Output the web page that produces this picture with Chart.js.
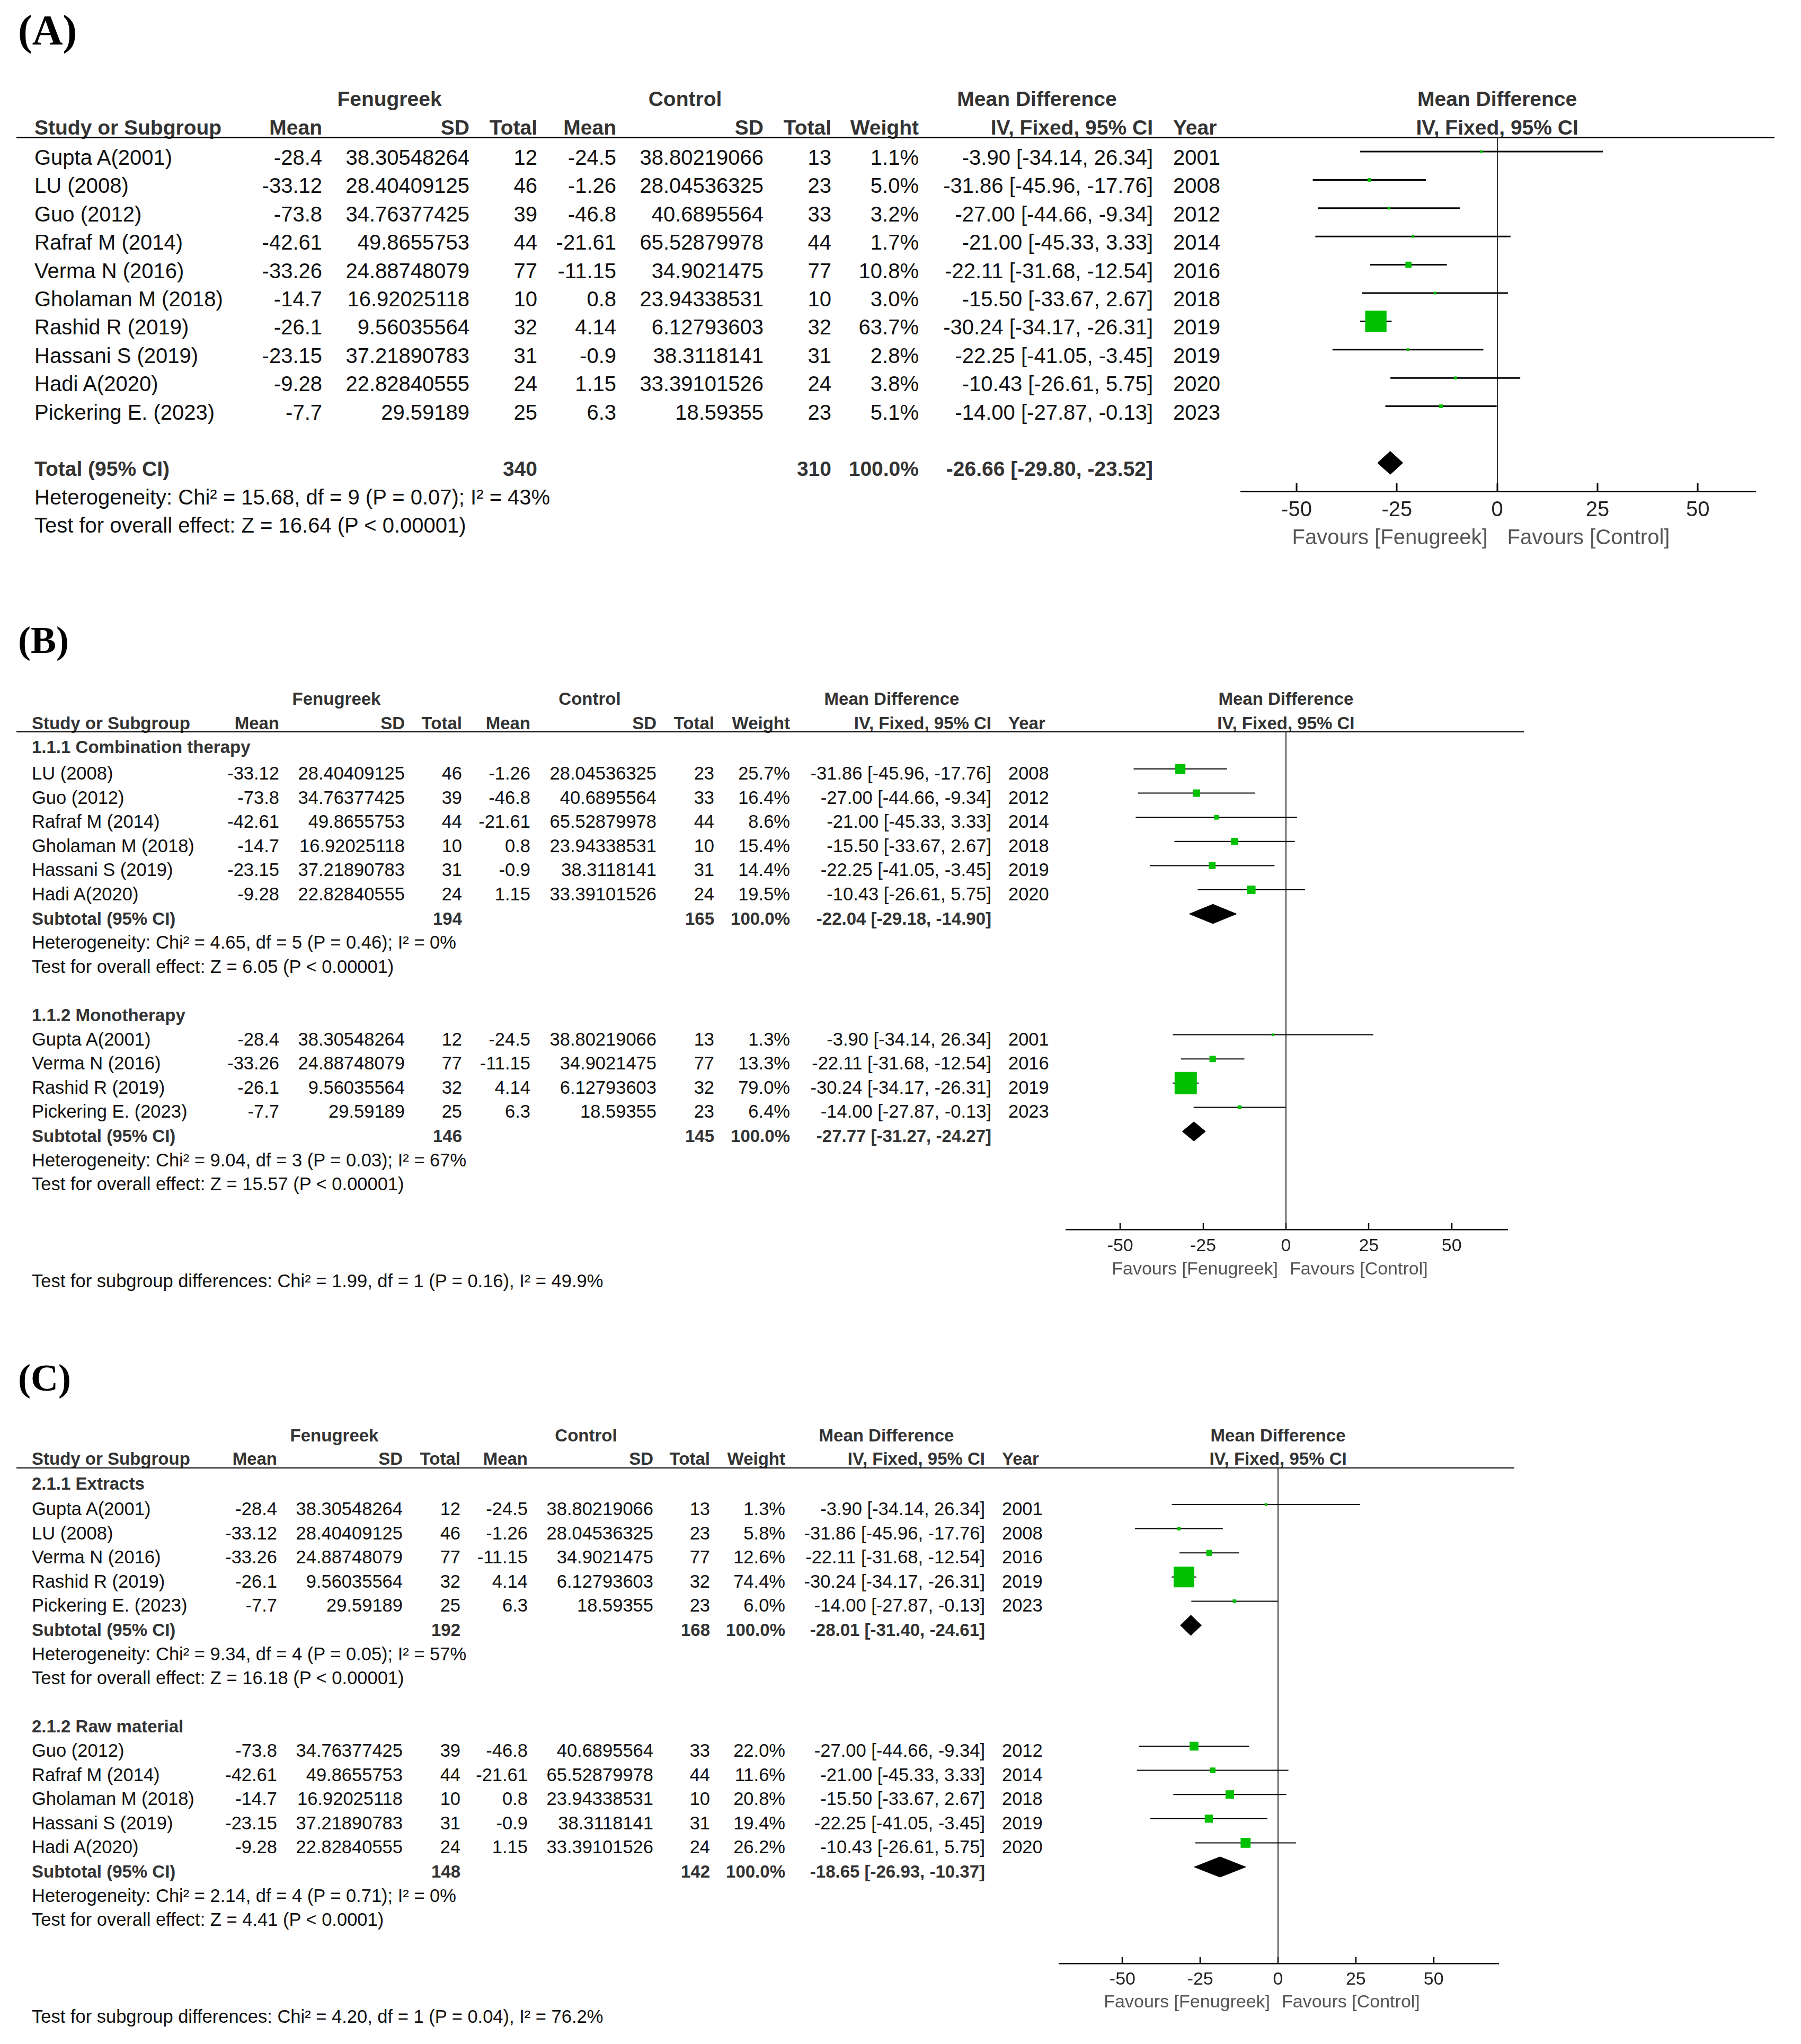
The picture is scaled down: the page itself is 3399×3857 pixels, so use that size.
<!DOCTYPE html>
<html>
<head>
<meta charset="utf-8">
<script src="https://cdn.jsdelivr.net/npm/chart.js@4.4.1/dist/chart.umd.min.js"></script>
<style>
html, body { margin: 0; padding: 0; background: #fff; }
#page { position: relative; width: 3399px; height: 3857px; overflow: hidden; font-family: "Liberation Sans", Arial, sans-serif; color: #111; }
.t { position: absolute; white-space: pre; line-height: 1; transform: translateY(-50%); }
.hl { position: absolute; background: #000; }
canvas { position: absolute; }
</style>
</head>
<body>
<div id="page"></div>
<script>
// studies (same order as panel A)
const studyNames = ['Gupta A(2001)', 'LU (2008)', 'Guo (2012)', 'Rafraf M (2014)', 'Verma N (2016)', 'Gholaman M (2018)', 'Rashid R (2019)', 'Hassani S (2019)', 'Hadi A(2020)', 'Pickering E. (2023)'];
const fenMean = [-28.4, -33.12, -73.8, -42.61, -33.26, -14.7, -26.1, -23.15, -9.28, -7.7];
const fenSD = [38.30548264, 28.40409125, 34.76377425, 49.8655753, 24.88748079, 16.92025118, 9.56035564, 37.21890783, 22.82840555, 29.59189];
const fenN = [12, 46, 39, 44, 77, 10, 32, 31, 24, 25];
const ctlMean = [-24.5, -1.26, -46.8, -21.61, -11.15, 0.8, 4.14, -0.9, 1.15, 6.3];
const ctlSD = [38.80219066, 28.04536325, 40.6895564, 65.52879978, 34.9021475, 23.94338531, 6.12793603, 38.3118141, 33.39101526, 18.59355];
const ctlN = [13, 23, 33, 44, 77, 10, 32, 31, 24, 23];
const md = [-3.90, -31.86, -27.00, -21.00, -22.11, -15.50, -30.24, -22.25, -10.43, -14.00];
const ciLow = [-34.14, -45.96, -44.66, -45.33, -31.68, -33.67, -34.17, -41.05, -26.61, -27.87];
const ciHigh = [26.34, -17.76, -9.34, 3.33, -12.54, 2.67, -26.31, -3.45, 5.75, -0.13];
const years = [2001, 2008, 2012, 2014, 2016, 2018, 2019, 2019, 2020, 2023];

// panel A
const studiesA = [0, 1, 2, 3, 4, 5, 6, 7, 8, 9];
const weightsA = [1.1, 5.0, 3.2, 1.7, 10.8, 3.0, 63.7, 2.8, 3.8, 5.1];
const pooledA = [-26.66, -29.80, -23.52];
const totalsA = [340, 310];
const statsA = ['Heterogeneity: Chi² = 15.68, df = 9 (P = 0.07); I² = 43%', 'Test for overall effect: Z = 16.64 (P < 0.00001)'];

// panel B
const subgroupsB = ['1.1.1 Combination therapy', '1.1.2 Monotherapy'];
const studiesB1 = [1, 2, 3, 5, 7, 8];
const weightsB1 = [25.7, 16.4, 8.6, 15.4, 14.4, 19.5];
const pooledB1 = [-22.04, -29.18, -14.90];
const totalsB1 = [194, 165];
const statsB1 = ['Heterogeneity: Chi² = 4.65, df = 5 (P = 0.46); I² = 0%', 'Test for overall effect: Z = 6.05 (P < 0.00001)'];
const studiesB2 = [0, 4, 6, 9];
const weightsB2 = [1.3, 13.3, 79.0, 6.4];
const pooledB2 = [-27.77, -31.27, -24.27];
const totalsB2 = [146, 145];
const statsB2 = ['Heterogeneity: Chi² = 9.04, df = 3 (P = 0.03); I² = 67%', 'Test for overall effect: Z = 15.57 (P < 0.00001)'];
const diffB = 'Test for subgroup differences: Chi² = 1.99, df = 1 (P = 0.16), I² = 49.9%';

// panel C
const subgroupsC = ['2.1.1 Extracts', '2.1.2 Raw material'];
const studiesC1 = [0, 1, 4, 6, 9];
const weightsC1 = [1.3, 5.8, 12.6, 74.4, 6.0];
const pooledC1 = [-28.01, -31.40, -24.61];
const totalsC1 = [192, 168];
const statsC1 = ['Heterogeneity: Chi² = 9.34, df = 4 (P = 0.05); I² = 57%', 'Test for overall effect: Z = 16.18 (P < 0.00001)'];
const studiesC2 = [2, 3, 5, 7, 8];
const weightsC2 = [22.0, 11.6, 20.8, 19.4, 26.2];
const pooledC2 = [-18.65, -26.93, -10.37];
const totalsC2 = [148, 142];
const statsC2 = ['Heterogeneity: Chi² = 2.14, df = 4 (P = 0.71); I² = 0%', 'Test for overall effect: Z = 4.41 (P < 0.0001)'];
const diffC = 'Test for subgroup differences: Chi² = 4.20, df = 1 (P = 0.04), I² = 76.2%';

const colHeads = ['Mean', 'SD', 'Total', 'Mean', 'SD', 'Total', 'Weight', 'IV, Fixed, 95% CI'];
const favourLabels = ['Favours [Fenugreek]', 'Favours [Control]'];

const page = document.getElementById('page');

const panels = [
  {
    label: '(A)', labelY: 57, labelSize: 80,
    fs: 40, bs: 39, groupY: 186, headY: 240, lineY: 259, lineX1: 3349, lineW: 3,
    left: 65, cols: [608, 886, 1014, 1163, 1441, 1569, 1734, 2176], yearX: 2214,
    gc: [735, 1293, 1957],
    x0: 2341, x1: 3314, xMin: -64, xMax: 64.5, axisY: 927, axisH: 130,
    ciY0: 286, pitch: 53.4, textOff: 11,
    tickFont: 40, tickPad: 12, tickLen: 15, favDy: 89, favFont: 40, gapL: 18, gapR: 19,
    ciW: 3, zeroW: 2, axisW: 3, sqK: 2.2, dH: 0.41,
    groups: [
      { title: null, studies: studiesA, weights: weightsA, start: 0, pooledRow: 11, pooled: pooledA, totals: totalsA, stats: statsA, totLabel: 'Total (95% CI)' }
    ],
    diff: null
  },
  {
    label: '(B)', labelY: 1208, labelSize: 72,
    fs: 34.5, bs: 33, groupY: 1318, headY: 1364, lineY: 1381, lineX1: 2876, lineW: 2,
    left: 60, cols: [527, 764, 872, 1001, 1239, 1348, 1491, 1871], yearX: 1903,
    gc: [635, 1113, 1683],
    x0: 2011, x1: 2846, xMin: -66.5, xMax: 67, axisY: 2320, axisH: 110,
    ciY0: 1451, pitch: 45.6, textOff: 8,
    tickFont: 34, tickPad: 11, tickLen: 12, favDy: 76, favFont: 34, gapL: 15, gapR: 7,
    ciW: 2, zeroW: 2, axisW: 2.5, sqK: 1.97, dH: 0.4,
    groups: [
      { title: subgroupsB[0], titleRow: -1.1, studies: studiesB1, weights: weightsB1, start: 0, pooledRow: 6, pooled: pooledB1, totals: totalsB1, stats: statsB1, totLabel: 'Subtotal (95% CI)' },
      { title: subgroupsB[1], titleRow: 10, studies: studiesB2, weights: weightsB2, start: 11, pooledRow: 15, pooled: pooledB2, totals: totalsB2, stats: statsB2, totLabel: 'Subtotal (95% CI)' }
    ],
    diff: diffB, diffRow: 21
  },
  {
    label: '(C)', labelY: 2600, labelSize: 72,
    fs: 34.5, bs: 33, groupY: 2708, headY: 2752, lineY: 2770, lineX1: 2858, lineW: 2,
    left: 60, cols: [523, 760, 869, 996, 1233, 1340, 1482, 1859], yearX: 1891,
    gc: [631, 1106, 1673],
    x0: 1998, x1: 2829, xMin: -70.5, xMax: 71, axisY: 3705, axisH: 110,
    ciY0: 2839, pitch: 45.6, textOff: 8,
    tickFont: 34, tickPad: 10, tickLen: 12, favDy: 74, favFont: 34, gapL: 15, gapR: 7,
    ciW: 2, zeroW: 2, axisW: 2.5, sqK: 1.91, dH: 0.42,
    groups: [
      { title: subgroupsC[0], titleRow: -1.05, studies: studiesC1, weights: weightsC1, start: 0, pooledRow: 5, pooled: pooledC1, totals: totalsC1, stats: statsC1, totLabel: 'Subtotal (95% CI)' },
      { title: subgroupsC[1], titleRow: 9, studies: studiesC2, weights: weightsC2, start: 10, pooledRow: 15, pooled: pooledC2, totals: totalsC2, stats: statsC2, totLabel: 'Subtotal (95% CI)' }
    ],
    diff: diffC, diffRow: 21
  }
];

const put = (txt, x, y, size, align, bold, color, family) => {
  const d = document.createElement('div');
  d.className = 't';
  d.textContent = txt;
  d.style.fontSize = size + 'px';
  d.style.top = y + 'px';
  d.style.left = x + 'px';
  d.style.color = color || '#111';
  if (bold) d.style.fontWeight = 'bold';
  if (family) d.style.fontFamily = family;
  if (align === 'right') d.style.transform = 'translate(-100%,-50%)';
  if (align === 'center') d.style.transform = 'translate(-50%,-50%)';
  page.appendChild(d);
};

const fmtCI = (e, lo, hi) => e.toFixed(2) + ' [' + lo.toFixed(2) + ', ' + hi.toFixed(2) + ']';

const upTicks = {
  id: 'upTicks',
  afterDraw(chart, args, o) {
    const ctx = chart.ctx, xs = chart.scales.x, b = chart.chartArea.bottom;
    ctx.save();
    ctx.strokeStyle = '#000';
    ctx.lineWidth = o.w;
    ctx.beginPath();
    xs.ticks.forEach(t => {
      const px = Math.round(xs.getPixelForValue(t.value));
      ctx.moveTo(px, b);
      ctx.lineTo(px, b - o.len);
    });
    ctx.stroke();
    ctx.restore();
  }
};

const favours = {
  id: 'favours',
  afterDraw(chart, args, o) {
    const ctx = chart.ctx, z = chart.scales.x.getPixelForValue(0);
    const y = chart.chartArea.bottom + o.dy;
    ctx.save();
    ctx.font = o.size + 'px "Liberation Sans", Arial, sans-serif';
    ctx.fillStyle = '#555';
    ctx.textBaseline = 'middle';
    ctx.textAlign = 'right';
    ctx.fillText(favourLabels[0], z - o.gapL, y);
    ctx.textAlign = 'left';
    ctx.fillText(favourLabels[1], z + o.gapR, y);
    ctx.restore();
  }
};

const drawPanel = (p) => {
  const ty = (i) => p.ciY0 + p.textOff + p.pitch * i;
  const zeroX = p.x0 + (0 - p.xMin) / (p.xMax - p.xMin) * (p.x1 - p.x0);
  const hc = '#333';

  put(p.label, 34, p.labelY, p.labelSize, 'left', true, '#000', '"Liberation Serif", "Times New Roman", serif');

  put('Fenugreek', p.gc[0], p.groupY, p.bs, 'center', true, hc);
  put('Control', p.gc[1], p.groupY, p.bs, 'center', true, hc);
  put('Mean Difference', p.gc[2], p.groupY, p.bs, 'center', true, hc);
  put('Mean Difference', zeroX, p.groupY, p.bs, 'center', true, hc);
  put('Study or Subgroup', p.left, p.headY, p.bs, 'left', true, hc);
  colHeads.forEach((h, k) => put(h, p.cols[k], p.headY, p.bs, 'right', true, hc));
  put('Year', p.yearX, p.headY, p.bs, 'left', true, hc);
  put('IV, Fixed, 95% CI', zeroX, p.headY, p.bs, 'center', true, hc);

  const line = document.createElement('div');
  line.className = 'hl';
  line.style.left = '31px';
  line.style.width = (p.lineX1 - 31) + 'px';
  line.style.top = (p.lineY - p.lineW / 2) + 'px';
  line.style.height = p.lineW + 'px';
  page.appendChild(line);

  p.groups.forEach(g => {
    if (g.title) put(g.title, p.left, ty(g.titleRow), p.bs, 'left', true, hc);
    g.studies.forEach((s, k) => {
      const y = ty(g.start + k);
      const c = p.cols;
      put(studyNames[s], p.left, y, p.fs, 'left');
      put(String(fenMean[s]), c[0], y, p.fs, 'right');
      put(String(fenSD[s]), c[1], y, p.fs, 'right');
      put(String(fenN[s]), c[2], y, p.fs, 'right');
      put(String(ctlMean[s]), c[3], y, p.fs, 'right');
      put(String(ctlSD[s]), c[4], y, p.fs, 'right');
      put(String(ctlN[s]), c[5], y, p.fs, 'right');
      put(g.weights[k].toFixed(1) + '%', c[6], y, p.fs, 'right');
      put(fmtCI(md[s], ciLow[s], ciHigh[s]), c[7], y, p.fs, 'right');
      put(String(years[s]), p.yearX, y, p.fs, 'left');
    });
    const y = ty(g.pooledRow);
    put(g.totLabel, p.left, y, p.bs, 'left', true, hc);
    put(String(g.totals[0]), p.cols[2], y, p.bs, 'right', true, hc);
    put(String(g.totals[1]), p.cols[5], y, p.bs, 'right', true, hc);
    put('100.0%', p.cols[6], y, p.bs, 'right', true, hc);
    put(fmtCI(g.pooled[0], g.pooled[1], g.pooled[2]), p.cols[7], y, p.bs, 'right', true, hc);
    g.stats.forEach((st, k) => put(st, p.left, ty(g.pooledRow + 1 + k), p.fs, 'left'));
  });
  if (p.diff) put(p.diff, p.left, ty(p.diffRow), p.fs, 'left');

  // forest plot
  const canvas = document.createElement('canvas');
  const w = p.x1 - p.x0, h = p.axisY - p.lineY + p.axisH;
  canvas.width = w;
  canvas.height = h;
  canvas.style.left = p.x0 + 'px';
  canvas.style.top = p.lineY + 'px';
  canvas.style.width = w + 'px';
  canvas.style.height = h + 'px';
  page.appendChild(canvas);

  const datasets = [];
  const boxes = [];
  const boxR = [];
  p.groups.forEach(g => {
    g.studies.forEach((s, k) => {
      const row = g.start + k;
      datasets.push({
        data: [{ x: ciLow[s], y: row }, { x: ciHigh[s], y: row }],
        showLine: true, borderColor: '#000', borderWidth: p.ciW, pointRadius: 0, order: 2
      });
      boxes.push({ x: md[s], y: row });
      boxR.push(Math.max(5, p.sqK * Math.pow(g.weights[k], 0.7)) / Math.SQRT2);
    });
    const [e, lo, hi] = g.pooled;
    const r = g.pooledRow;
    datasets.push({
      data: [{ x: lo, y: r }, { x: e, y: r - p.dH }, { x: hi, y: r }, { x: e, y: r + p.dH }, { x: lo, y: r }],
      showLine: true, fill: 'shape', backgroundColor: '#000', borderColor: '#000', borderWidth: 1,
      pointRadius: 0, tension: 0, order: 1
    });
  });
  datasets.push({
    data: boxes, pointStyle: 'rect', pointRadius: boxR,
    pointBackgroundColor: '#00c000', backgroundColor: '#00c000', pointBorderWidth: 0, borderWidth: 0,
    showLine: false, order: 0
  });

  new Chart(canvas, {
    type: 'scatter',
    data: { datasets },
    options: {
      responsive: false,
      animation: false,
      devicePixelRatio: 1,
      events: [],
      layout: { padding: 0, autoPadding: false },
      plugins: {
        legend: { display: false },
        tooltip: { enabled: false },
        upTicks: { w: p.axisW, len: p.tickLen },
        favours: { dy: p.favDy, size: p.favFont, gapL: p.gapL, gapR: p.gapR }
      },
      scales: {
        x: {
          type: 'linear', position: 'bottom', min: p.xMin, max: p.xMax,
          afterFit: (s) => { s.height = p.axisH; },
          border: { display: true, color: '#000', width: p.axisW },
          grid: {
            drawTicks: false, lineWidth: p.zeroW,
            color: (c) => (c.tick && c.tick.value === 0) ? '#333' : 'rgba(0,0,0,0)'
          },
          ticks: {
            stepSize: 25, includeBounds: false, padding: p.tickPad, color: '#222',
            maxRotation: 0, autoSkip: false,
            font: { family: '"Liberation Sans", Arial, sans-serif', size: p.tickFont }
          }
        },
        y: { type: 'linear', reverse: true, display: false,
             min: (p.lineY - p.ciY0) / p.pitch, max: (p.axisY - p.ciY0) / p.pitch }
      }
    },
    plugins: [upTicks, favours]
  });
};

panels.forEach(drawPanel);
</script>
</body>
</html>
